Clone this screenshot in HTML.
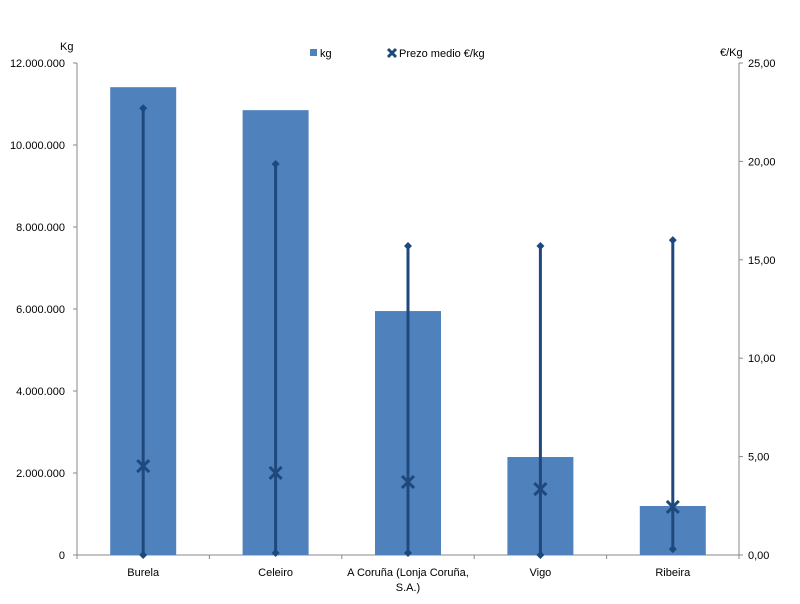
<!DOCTYPE html>
<html><head><meta charset="utf-8"><style>
body{margin:0;background:#fff;font-family:"Liberation Sans",sans-serif;}
svg text{font-family:"Liberation Sans",sans-serif;font-size:11px;fill:#000;}
</style></head><body>
<svg width="800" height="599" id="c"></svg>
<script>
const categories=["Burela","Celeiro","A Coruña (Lonja Coruña,|S.A.)","Vigo","Ribeira"];
const kg=[11410000,10850000,5950000,2390000,1195000];
const priceHigh=[22.7,19.87,15.7,15.7,16.0];
const priceLow=[0,0.1,0.1,0,0.3];
const priceAvg=[4.52,4.17,3.71,3.35,2.44];
const leftTicks=[0,2000000,4000000,6000000,8000000,10000000,12000000];
const rightTicks=[0,5,10,15,20,25];
const NS="http://www.w3.org/2000/svg",svg=document.getElementById('c');
const X0=77,X1=739,Y0=555,Y1=63;
const yL=v=>Y0-(v/12000000)*(Y0-Y1);
const yR=v=>Y0-(v/25)*(Y0-Y1);
const bw=(X1-X0)/categories.length;
const xc=i=>X0+bw*(i+0.5);
function el(t,a,p){const e=document.createElementNS(NS,t);for(const k in a)e.setAttribute(k,a[k]);(p||svg).appendChild(e);return e;}
const fmt=v=>v.toString().replace(/\B(?=(\d{3})+(?!\d))/g,".");
// axes
let a=el('line',{x1:X0,y1:Y1,x2:X0,y2:Y0,stroke:'#888'});
a=el('line',{x1:X1,y1:Y1,x2:X1,y2:Y0,stroke:'#888'});
a=el('line',{x1:X0,y1:Y0,x2:X1,y2:Y0,stroke:'#888'});
leftTicks.forEach(v=>{el('line',{x1:X0-4,y1:yL(v),x2:X0,y2:yL(v),stroke:'#888'});
 const t=el('text',{x:X0-12,y:yL(v)+4,'text-anchor':'end'});t.textContent=fmt(v);
 });
rightTicks.forEach(v=>{el('line',{x1:X1,y1:yR(v),x2:X1+4,y2:yR(v),stroke:'#888'});
 const t=el('text',{x:X1+9,y:yR(v)+4});t.textContent=v.toFixed(2).replace('.',',');
 });
for(let i=0;i<=categories.length;i++)el('line',{x1:X0+bw*i,y1:Y0,x2:X0+bw*i,y2:Y0+4,stroke:'#888'});
let t=el('text',{x:60,y:50,'font-size':'12'});t.textContent='Kg';
t=el('text',{x:720,y:56,'font-size':'12'});t.textContent='€/Kg';
categories.forEach((c,i)=>{
 const r=el('rect',{x:xc(i)-33,y:yL(kg[i]),width:66,height:Y0-yL(kg[i]),fill:'#4f81bd'});
 
 const ln=el('line',{x1:xc(i),y1:yR(priceHigh[i]),x2:xc(i),y2:yR(priceLow[i]),stroke:'#1f497d','stroke-width':3});
 
 [priceHigh[i],priceLow[i]].forEach(v=>{const y=yR(v);const d=el('path',{d:`M${xc(i)} ${y-4}L${xc(i)+4} ${y}L${xc(i)} ${y+4}L${xc(i)-4} ${y}Z`,fill:'#1f497d'});
  });
 const y=yR(priceAvg[i]),x=xc(i);
 const m=el('path',{d:`M${x-6} ${y-6}L${x+6} ${y+6}M${x+6} ${y-6}L${x-6} ${y+6}`,stroke:'#1f497d','stroke-width':3});
 
 c.split('|').forEach((s,k)=>{const tt=el('text',{x:xc(i),y:576+k*15,'text-anchor':'middle'});tt.textContent=s;
  });
});
const lg=el('g',{});
el('rect',{x:310,y:49,width:7,height:7,fill:'#4f81bd'},lg);
t=el('text',{x:320,y:57},lg);t.textContent='kg';
el('path',{d:'M388 49L396 57M396 49L388 57',stroke:'#1f497d','stroke-width':3},lg);
t=el('text',{x:399,y:57},lg);t.textContent='Prezo medio €/kg';
</script></body></html>
